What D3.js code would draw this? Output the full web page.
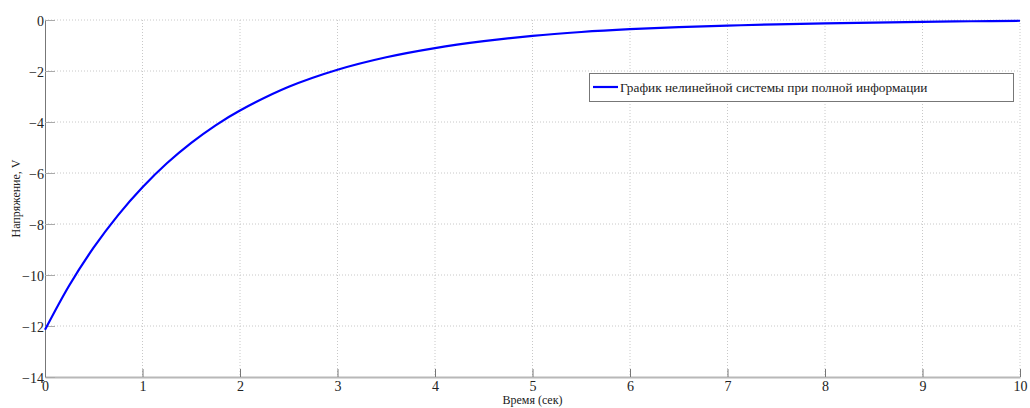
<!DOCTYPE html>
<html>
<head>
<meta charset="utf-8">
<script src="https://cdn.jsdelivr.net/npm/d3@7"></script>
<style>
  body { margin: 0; background: #fff; }
  svg text { font-family: "Liberation Serif", "Times New Roman", "DejaVu Serif", serif; }
</style>
</head>
<body>
<div id="chart"></div>
<script>
// time (sec) and voltage
const times = [0, 0.25, 0.5, 0.75, 1, 1.25, 1.5, 1.75, 2, 2.5, 3, 3.5, 4, 4.5, 5, 5.5, 6, 6.5, 7, 7.5, 8, 8.5, 9, 9.5, 10];
const voltage = [-12.15, -10.4, -8.92, -7.65, -6.56, -5.62, -4.82, -4.13, -3.55, -2.62, -1.95, -1.46, -1.1, -0.83, -0.62, -0.47, -0.36, -0.28, -0.22, -0.17, -0.13, -0.1, -0.07, -0.05, -0.03];
const xTicks = [0, 1, 2, 3, 4, 5, 6, 7, 8, 9, 10];
const yTicks = [0, -2, -4, -6, -8, -10, -12, -14];
const seriesName = "График нелинейной системы при полной информации";

const W = 1030, H = 408;
const margin = { top: 20, right: 10, bottom: 31, left: 45 };
const width = W - margin.left - margin.right;
const height = H - margin.top - margin.bottom;
const serif = "'Liberation Serif', 'Times New Roman', serif";

const svg = d3.select("#chart").append("svg")
    .attr("width", W)
    .attr("height", H);

const g = svg.append("g")
    .attr("transform", `translate(${margin.left},${margin.top})`);

const x = d3.scaleLinear().domain([0, 10]).range([0, width]);
const y = d3.scaleLinear().domain([-14, 0]).range([height, 0]);

// dotted grid
g.append("g").selectAll("line")
    .data(xTicks.slice(1))
    .join("line")
    .attr("x1", d => x(d)).attr("x2", d => x(d))
    .attr("y1", 0).attr("y2", height)
    .attr("stroke", "#c8c8c8")
    .attr("stroke-dasharray", "1,2");

g.append("g").selectAll("line")
    .data(yTicks.slice(0, -1))
    .join("line")
    .attr("x1", 0).attr("x2", width)
    .attr("y1", d => y(d)).attr("y2", d => y(d))
    .attr("stroke", "#c8c8c8")
    .attr("stroke-dasharray", "1,2");

// axes
const xAxis = g.append("g")
    .attr("class", "x-axis")
    .attr("transform", `translate(0,${height})`)
    .call(d3.axisBottom(x).tickValues(xTicks).tickSize(-8).tickPadding(12).tickSizeOuter(0));

const yAxis = g.append("g")
    .attr("class", "y-axis")
    .call(d3.axisLeft(y).tickValues(yTicks).tickSize(-10).tickPadding(12).tickSizeOuter(0));

xAxis.attr("font-family", serif);
yAxis.attr("font-family", serif);
xAxis.select(".domain").attr("stroke", "#b8b8b8").attr("stroke-width", 2);
xAxis.selectAll(".tick line").attr("stroke", "#777");
yAxis.select(".domain").attr("stroke", "#777");
yAxis.selectAll(".tick line").attr("stroke", "#aaa");

svg.selectAll(".tick text")
    .attr("fill", "#222")
    .attr("font-size", "14px");

yAxis.selectAll(".tick text").attr("dx", 11).attr("dy", "0.36em");
xAxis.selectAll(".tick text").attr("y", 4).attr("dy", "0.72em");

// curve
const line = d3.line()
    .x((d, i) => x(times[i]))
    .y(d => y(d))
    .curve(d3.curveCatmullRom);

g.append("path")
    .datum(voltage)
    .attr("fill", "none")
    .attr("stroke", "#0000ff")
    .attr("stroke-width", 2.2)
    .attr("d", line);

// axis labels
svg.append("text")
    .attr("x", margin.left + width / 2)
    .attr("y", 404)
    .attr("text-anchor", "middle")
    .attr("font-size", "12px")
    .attr("fill", "#222")
    .text("Время (сек)");

svg.append("text")
    .attr("transform", `translate(20,${margin.top + height / 2}) rotate(-90)`)
    .attr("text-anchor", "middle")
    .attr("font-size", "12px")
    .attr("fill", "#222")
    .text("Напряжение, V");

// legend
const legend = svg.append("g").attr("transform", "translate(589,73)");
legend.append("rect")
    .attr("x", 0.5).attr("y", 0.5)
    .attr("width", 424).attr("height", 28)
    .attr("fill", "#fff")
    .attr("stroke", "#777");
legend.append("line")
    .attr("x1", 4).attr("x2", 29)
    .attr("y1", 14).attr("y2", 14)
    .attr("stroke", "#0000ff")
    .attr("stroke-width", 2.2);
legend.append("text")
    .attr("x", 31).attr("y", 19)
    .attr("font-size", "13.3px")
    .attr("fill", "#222")
    .text(seriesName);
</script>
</body>
</html>
